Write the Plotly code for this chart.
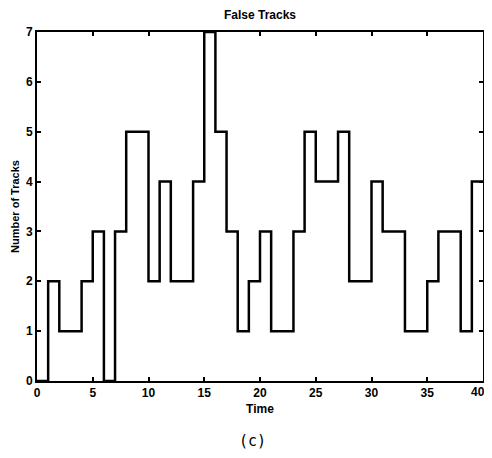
import plotly.graph_objects as go

time_steps = list(range(0, 41))
false_tracks = [0, 2, 1, 1, 2, 3, 0, 3, 5, 5, 2, 4, 2, 2, 4, 7, 5, 3, 1, 2,
                3, 1, 1, 3, 5, 4, 4, 5, 2, 2, 4, 3, 3, 1, 1, 2, 3, 3, 1, 4]
y_vals = false_tracks + [false_tracks[-1]]
x_ticks = [0, 5, 10, 15, 20, 25, 30, 35, 40]
x_tick_labels = ["0", "5", "10", "15", "20", "25", "30", "35", "40"]
y_ticks = [0, 1, 2, 3, 4, 5, 6, 7]

FONT = "Liberation Sans, Arial"

fig = go.Figure()
fig.add_trace(go.Scatter(x=time_steps, y=y_vals, mode="lines",
                         line=dict(shape="hv", color="black", width=2.5),
                         showlegend=False, hoverinfo="skip", cliponaxis=False))

tickfont = dict(family=FONT, size=12, color="black", weight="bold")
axis_common = dict(showgrid=False, zeroline=False, showline=True, linecolor="black",
                   linewidth=2, mirror="ticks", ticks="inside", ticklen=4,
                   tickwidth=1.5, tickcolor="black", tickfont=tickfont, automargin=False,
                   ticklabeloverflow="allow")

# last x tick label is drawn as an annotation nudged left so it stays in view
shown_labels = x_tick_labels[:-1] + [""]

fig.update_layout(
    width=484, height=442,
    margin=dict(l=29, r=9, t=24, b=69),
    paper_bgcolor="white", plot_bgcolor="white",
    title=dict(text="False Tracks", x=0.5, xanchor="center", xref="paper",
               y=1 - 7 / 442, yanchor="middle", yref="container",
               font=dict(family=FONT, size=12, color="black", weight="bold")),
    xaxis=dict(range=[0, 40], tickvals=x_ticks, ticktext=shown_labels,
               title=dict(text="Time", standoff=5,
                          font=dict(family=FONT, size=12, color="black", weight="bold")),
               **axis_common),
    yaxis=dict(range=[0, 7], tickvals=y_ticks, title=dict(text="Number of Tracks", standoff=4,
               font=dict(family=FONT, size=11, color="black", weight="bold")),
               **axis_common),
    annotations=[
        dict(text=x_tick_labels[-1], xref="x", yref="paper", x=x_ticks[-1], y=0,
             xanchor="center", yanchor="top", xshift=-5, yshift=-2, showarrow=False,
             font=tickfont),
        dict(text="(c)", xref="paper", yref="paper", x=0.484, y=-0.172,
             xanchor="center", yanchor="middle", showarrow=False,
             font=dict(family="DejaVu Sans Mono", size=15, color="black")),
    ],
)

fig.write_html("out.html")
